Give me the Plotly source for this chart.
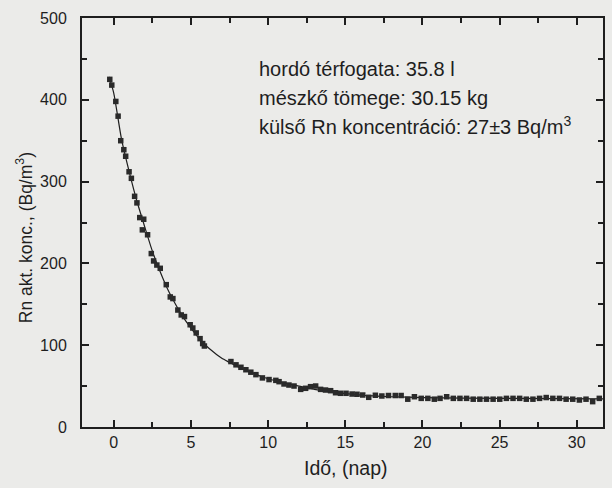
import plotly.graph_objects as go

# measured points (day, Bq/m3)
t_meas = [-0.26, -0.13, 0.13, 0.28, 0.45, 0.65, 0.77, 0.99, 1.14, 1.35, 1.5,
          1.68, 1.85, 1.94, 2.19, 2.43, 2.58, 2.79, 3.01, 3.4, 3.66, 3.83, 4.15,
          4.37, 4.58, 4.95, 5.12, 5.34, 5.59, 5.76, 5.87,
          7.59, 7.92, 8.24, 8.56, 8.88, 9.21, 9.63, 10.06, 10.5, 10.71, 11.03,
          11.35, 11.68, 12.11, 12.43, 12.75, 13.08, 13.4, 13.72, 14.05, 14.37,
          14.69, 15.05, 15.44, 15.76, 16.13, 16.52, 16.95, 17.37, 17.8, 18.24,
          18.62, 19.05, 19.48, 19.92, 20.35, 20.77, 21.14, 21.57, 22.0, 22.43,
          22.86, 23.29, 23.72, 24.15, 24.58, 25.01, 25.44, 25.87, 26.3, 26.73,
          27.16, 27.59, 28.02, 28.45, 28.88, 29.31, 29.74, 30.17, 30.6, 31.03,
          31.46]
c_meas = [425, 418, 398, 380, 350, 339, 331, 312, 304, 282, 274,
          256, 241, 254, 235, 212, 203, 198, 194, 174, 159, 157, 143,
          137, 135, 125, 121, 115, 108, 102, 99,
          80, 76, 73, 70, 67, 64, 60, 58, 57, 55.4, 52.6,
          51.3, 50.1, 46, 47.3, 49.3, 50.1, 46, 45.2, 44.4, 41.9,
          41.2, 41.2, 40.3, 40, 39.1, 36.3, 38.8, 37.9, 38.5, 38.5,
          38.5, 34, 37, 35, 35, 34, 35, 37, 35, 35,
          35, 34, 34, 34, 34, 34, 35, 35, 35, 34,
          34, 35, 36, 35, 35, 34, 34, 33, 34, 31,
          35]

# fitted curve
t_fit = [-0.3, 0, 0.5, 1, 1.5, 2, 2.5, 3, 3.5, 4, 4.5, 5, 5.5, 6, 6.5, 7,
         7.5, 8, 8.5, 9, 9.5, 10, 11, 12, 13, 14, 15, 16, 18, 20, 25, 31.7]
c_fit = [428, 408, 352, 312, 276, 245, 215, 190, 168, 150, 134, 121, 109, 99,
         91, 84, 79, 74, 70, 66, 62, 59, 54, 50, 46, 43, 41, 39, 37, 36, 35, 34.5]

info_lines = ["hordó térfogata: 35.8 l",
              "mészkő tömege: 30.15 kg",
              "külső Rn koncentráció: 27±3 Bq/m<sup>3</sup>"]
x_title = "Idő, (nap)"
y_title = "Rn akt. konc., (Bq/m<sup>3</sup>)"

FONT = "Liberation Sans, Arial, sans-serif"
INK = "#1e1e1e"
BG = "#ebebe9"

L, R, T, B = 82, 7, 18, 61
W, H = 612, 488
pw, ph = W - L - R, H - T - B


def px(x):
    return (x - L) / pw


def py(y):
    return 1 - (y - T) / ph


fig = go.Figure()
fig.add_trace(go.Scatter(x=t_fit, y=c_fit, mode="lines",
                         line=dict(color=INK, width=1.2, shape="spline", smoothing=0.6),
                         hoverinfo="skip", showlegend=False))
fig.add_trace(go.Scatter(x=t_meas, y=c_meas, mode="markers",
                         marker=dict(symbol="square", size=5.5, color="#2a2a2a"),
                         showlegend=False))

axis_common = dict(showgrid=False, zeroline=False, showline=True, linecolor=INK,
                   linewidth=2, mirror="ticks", ticks="inside", ticklen=7,
                   tickwidth=1.5, tickcolor=INK, tickmode="linear", tick0=0,
                   tickfont=dict(family=FONT, size=16, color=INK))

fig.update_xaxes(range=[-2.06, 31.7], dtick=5,
                 minor=dict(dtick=2.5, tick0=0, ticks="inside", ticklen=5,
                            tickwidth=1.5, tickcolor=INK, showgrid=False),
                 **axis_common)
fig.update_yaxes(range=[0, 500], dtick=100, ticklabelstandoff=10,
                 minor=dict(dtick=50, tick0=0, ticks="inside", ticklen=5,
                            tickwidth=1.5, tickcolor=INK, showgrid=False),
                 **axis_common)

baselines = [77, 106, 135]
for txt, yb in zip(info_lines, baselines):
    fig.add_annotation(x=px(258), y=py(yb + 5), xref="paper", yref="paper", text=txt,
                       showarrow=False, xanchor="left", yanchor="bottom",
                       font=dict(family=FONT, size=20, color=INK))

fig.add_annotation(text=x_title, x=px(347), y=py(468), xref="paper", yref="paper",
                   xanchor="center", yanchor="middle", showarrow=False,
                   font=dict(family=FONT, size=19.5, color=INK))
fig.add_annotation(text=y_title, x=px(24), y=py(238), xref="paper", yref="paper",
                   xanchor="center", yanchor="middle", textangle=-90, showarrow=False,
                   font=dict(family=FONT, size=17.5, color=INK))

fig.update_layout(
    width=W, height=H,
    margin=dict(l=L, r=R, t=T, b=B),
    paper_bgcolor=BG, plot_bgcolor=BG,
    font=dict(family=FONT, color=INK),
)

fig.write_html("out.html")
